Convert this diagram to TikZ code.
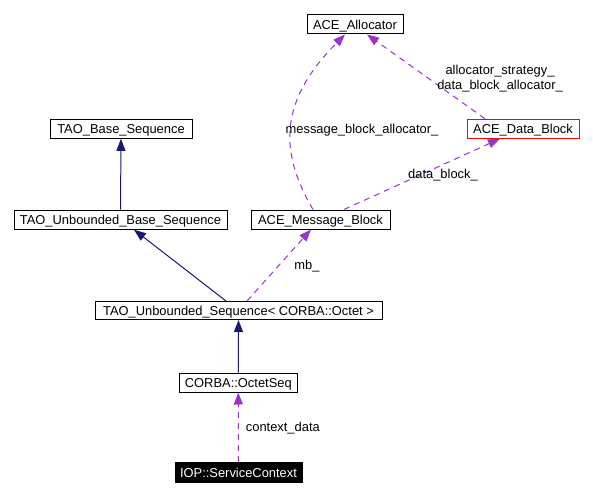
\documentclass[tikz,border=0pt]{standalone}
\usepackage{fontspec}
\setmainfont{Liberation Sans}
\usetikzlibrary{arrows.meta}
\definecolor{inhcol}{HTML}{191970}
\definecolor{depcol}{HTML}{9A32CD}
\begin{document}
\begin{tikzpicture}[x=1pt,y=-1pt,
  box/.style={draw=black, line width=1pt, fill=white, inner sep=0pt, minimum height=19pt, text height=9.3pt, text depth=0pt, font=\fontsize{12.9}{15}\selectfont},
  inhline/.style={draw=inhcol, line width=1pt, -{Triangle[length=12pt,width=9pt]}},
  depline/.style={draw=depcol, line width=1pt, dash pattern=on 6pt off 5pt, -{Triangle[length=12pt,width=9pt]}},
  lab/.style={inner sep=0pt, font=\fontsize{12.9}{15}\selectfont, align=center}]
\useasboundingbox[fill=white] (0,0) rectangle (593,497);

\node[box, minimum width=96pt] (alloc) at (355,24.5) {ACE\_Allocator};
\node[box, minimum width=112pt, draw=red] (datablock) at (523,128.7) {ACE\_Data\_Block};
\node[box, minimum width=139pt] (msgblock) at (320.5,219.5) {ACE\_Message\_Block};
\node[box, minimum width=142pt] (baseseq) at (121,128.8) {TAO\_Base\_Sequence};
\node[box, minimum width=213pt] (ubs) at (120.5,219.7) {TAO\_Unbounded\_Base\_Sequence};
\node[box, minimum width=287pt, minimum height=18pt] (us) at (238.5,310.5) {TAO\_Unbounded\_Sequence< CORBA::Octet >};
\node[box, minimum width=118pt] (octet) at (238.3,382.5) {CORBA::OctetSeq};
\node[box, minimum width=127pt, minimum height=20pt, fill=black, text=white] (sc) at (238.5,472.7) {IOP::ServiceContext};

% inheritance
\draw[inhline] (ubs.north) -- (baseseq.south);
\draw[inhline] ([xshift=-12.5pt]us.north) -- ([xshift=13.5pt]ubs.south);
\draw[inhline] (octet.north) -- (us.south);

% usage
\draw[depline] (sc.north) -- node[lab, anchor=west, xshift=7pt, yshift=-1pt] (lcd) {context\_data} (octet.south);
\draw[depline] ([xshift=8.5pt]us.north) -- ([xshift=-9.5pt]msgblock.south);
\node[lab] (lmb) at (307,266) {mb\_};
\draw[depline] ([xshift=-7.5pt]msgblock.north) .. controls (278,150) and (280,100) .. ([xshift=-10pt]alloc.south);
\node[lab] (lmba) at (362,130) {message\_block\_allocator\_};
\draw[depline] ([xshift=23.5pt]msgblock.north) -- ([xshift=-23pt]datablock.south);
\node[lab] (ldb) at (443,175) {data\_block\_};
\draw[depline] ([xshift=-38pt]datablock.north) -- ([xshift=12pt]alloc.south);
\node[lab] (las) at (500,78.5) {allocator\_strategy\_\\data\_block\_allocator\_};
\end{tikzpicture}
\end{document}
